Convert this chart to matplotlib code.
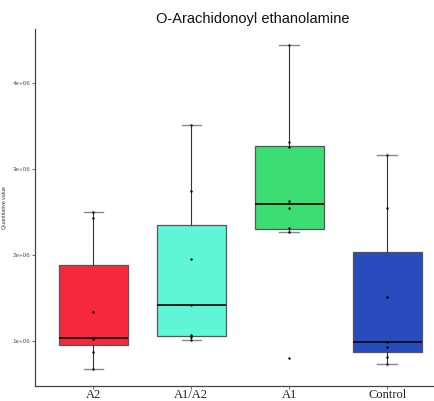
import numpy as np
import matplotlib
matplotlib.use('Agg')
import matplotlib.pyplot as plt

groups = ['A2', 'A1/A2', 'A1', 'Control']
colors = ['#F8283C', '#5FF6D8', '#3CDE74', '#284CBE']

a2 = [2.50e6, 2.43e6, 1.336e6, 1.035e6, 1.02e6, 0.872e6, 0.667e6]
a1a2 = [3.51e6, 2.74e6, 1.946e6, 1.413e6, 1.073e6, 1.042e6, 1.015e6]
a1 = [4.437e6, 3.306e6, 3.248e6, 2.626e6, 2.548e6, 2.313e6, 2.27e6, 0.803e6]
control = [3.162e6, 2.548e6, 1.51e6, 0.984e6, 0.934e6, 0.815e6, 0.725e6]
values = [a2, a1a2, a1, control]

W, H = 434, 401
fig = plt.figure(figsize=(W / 100, H / 100), dpi=100)
ax = fig.add_axes([34.6 / W, (H - 385.7) / H, (446 - 34.6) / W, (385.7 - 29) / H])

pos = np.arange(1, len(groups) + 1)
bp = ax.boxplot(values, positions=pos, widths=0.7, capwidths=0.2, patch_artist=True,
                showfliers=False, zorder=2,
                medianprops=dict(color='#111111', linewidth=1.3),
                whiskerprops=dict(color='#333333', linewidth=0.8),
                capprops=dict(color='#888888', linewidth=1.0),
                boxprops=dict(edgecolor='#555555', linewidth=0.9))
for patch, c in zip(bp['boxes'], colors):
    patch.set_facecolor(c)

for p, v in zip(pos, values):
    ax.scatter([p] * len(v), v, s=3, color='black', zorder=3, linewidths=0)

all_v = np.concatenate(values)
rng = all_v.max() - all_v.min()
ax.set_ylim(all_v.min() - 0.05 * rng, all_v.max() + 0.05 * rng)
ax.set_xlim(0.4, 4.6)

ax.set_yticks([1e6, 2e6, 3e6, 4e6])
ax.set_yticklabels(['1e+06', '2e+06', '3e+06', '4e+06'], fontsize=4.5, color='#555555',
                   family='Liberation Sans')
ax.set_xticks(pos)
ax.set_xticklabels(groups, fontsize=9, family='Liberation Serif', color='#222222')
ax.tick_params(axis='y', length=2, width=0.6, color='#555555', pad=1)
ax.tick_params(axis='x', length=2, width=0.6, color='#555555', pad=0.6)

for s in ['top', 'right']:
    ax.spines[s].set_visible(False)
for s in ['left', 'bottom']:
    ax.spines[s].set_color('#444444')
    ax.spines[s].set_linewidth(0.9)

ax.set_ylabel('Quantitative value', fontsize=3.8, color='#333333', family='Liberation Sans',
              labelpad=3)
ax.yaxis.set_label_coords(-27.5 / (446 - 34.6), 0.5)

fig.text(253 / W, 1 - 18.5 / H, 'O-Arachidonoyl ethanolamine', ha='center', va='center',
         fontsize=10.5, family='Liberation Sans', color='#111111')

fig.savefig('out.png', dpi=100)
